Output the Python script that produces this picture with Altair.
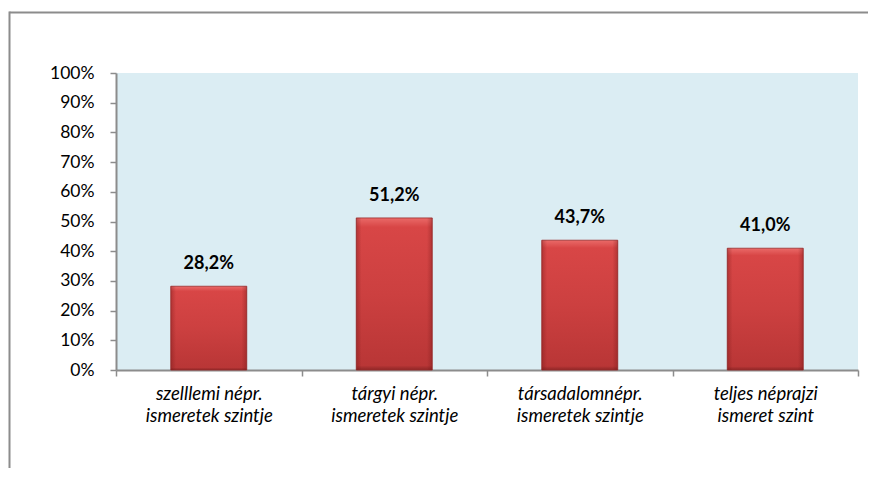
import altair as alt
import pandas as pd

categories = [
    "szelllemi népr.|ismeretek szintje",
    "tárgyi népr.|ismeretek szintje",
    "társadalomnépr.|ismeretek szintje",
    "teljes néprajzi|ismeret szint",
]
values = [28.2, 51.2, 43.7, 41.0]
labels = [f"{v:.1f}".replace(".", ",") + "%" for v in values]
y_ticks = [0, 10, 20, 30, 40, 50, 60, 70, 80, 90, 100]

df = pd.DataFrame({"cat": categories, "val": values, "lab": labels})

FONT = "Lato"
W, H = 742, 297

x_enc = alt.X(
    "cat:N",
    sort=categories,
    title=None,
    scale=alt.Scale(paddingInner=0, paddingOuter=0),
    axis=alt.Axis(
        labelExpr="split(datum.label, '|')",
        labelAngle=0,
        labelFont=FONT,
        labelFontSize=18.5,
        labelFontStyle="italic",
        labelColor="#000000",
        labelLineHeight=22,
        labelPadding=8,
        tickBand="extent",
        tickSize=6,
        tickColor="#8c8c8c",
        tickWidth=1.5,
        domainColor="#8c8c8c",
        domainWidth=2,
        grid=False,
    ),
)
y_enc = alt.Y(
    "val:Q",
    title=None,
    scale=alt.Scale(domain=[0, 100], nice=False),
    axis=alt.Axis(
        values=y_ticks,
        tickCount=11,
        labelExpr="datum.value + '%'",
        labelFont=FONT,
        labelFontSize=17.5,
        labelColor="#000000",
        labelPadding=16,
        labelOverlap=False,
        labelFlush=False,
        tickSize=6,
        tickColor="#8c8c8c",
        tickWidth=1.5,
        domainColor="#8c8c8c",
        domainWidth=2,
        grid=False,
    ),
)

base = alt.Chart(df).encode(x=x_enc, y=y_enc)

bars = base.mark_bar(
    size=76,
    fill=alt.Gradient(
        gradient="linear",
        x1=0, x2=0, y1=0, y2=1,
        stops=[
            alt.GradientStop(color="#ea6a68", offset=0),
            alt.GradientStop(color="#d84646", offset=0.06),
            alt.GradientStop(color="#cc4040", offset=0.5),
            alt.GradientStop(color="#b93636", offset=0.97),
            alt.GradientStop(color="#8e2626", offset=1),
        ],
    ),
    stroke="#9a2c2c",
    strokeWidth=0.8,
)

edges = base.mark_bar(
    size=76,
    fill=alt.Gradient(
        gradient="linear",
        x1=0, x2=1, y1=0, y2=0,
        stops=[
            alt.GradientStop(color="rgba(110,20,20,0.35)", offset=0),
            alt.GradientStop(color="rgba(110,20,20,0)", offset=0.07),
            alt.GradientStop(color="rgba(110,20,20,0)", offset=0.93),
            alt.GradientStop(color="rgba(110,20,20,0.35)", offset=1),
        ],
    ),
)

text = base.mark_text(
    font=FONT, fontSize=18, fontWeight="bold", color="#000000",
    baseline="bottom", dy=-13,
).encode(text="lab:N")

frame_data = alt.Data(values=[{"k": 1}])
frame_top = alt.Chart(frame_data).mark_rule(color="#8c8c8c", strokeWidth=2).encode(
    x=alt.value(-106.5), x2=alt.value(900), y=alt.value(-60.5)
)
frame_left = alt.Chart(frame_data).mark_rule(color="#8c8c8c", strokeWidth=2).encode(
    x=alt.value(-106.5), y=alt.value(-61.5), y2=alt.value(600)
)

chart = (
    alt.layer(bars, edges, text, frame_top, frame_left)
    .properties(
        width=W,
        height=H,
        autosize=alt.AutoSizeParams(type="none"),
        padding={"left": 108, "top": 65, "right": 10, "bottom": 98},
        background="#ffffff",
    )
    .configure_view(fill="#dbedf3", strokeWidth=0)
)

chart.save("out.html", embed_options={"renderer": "svg", "actions": False})
